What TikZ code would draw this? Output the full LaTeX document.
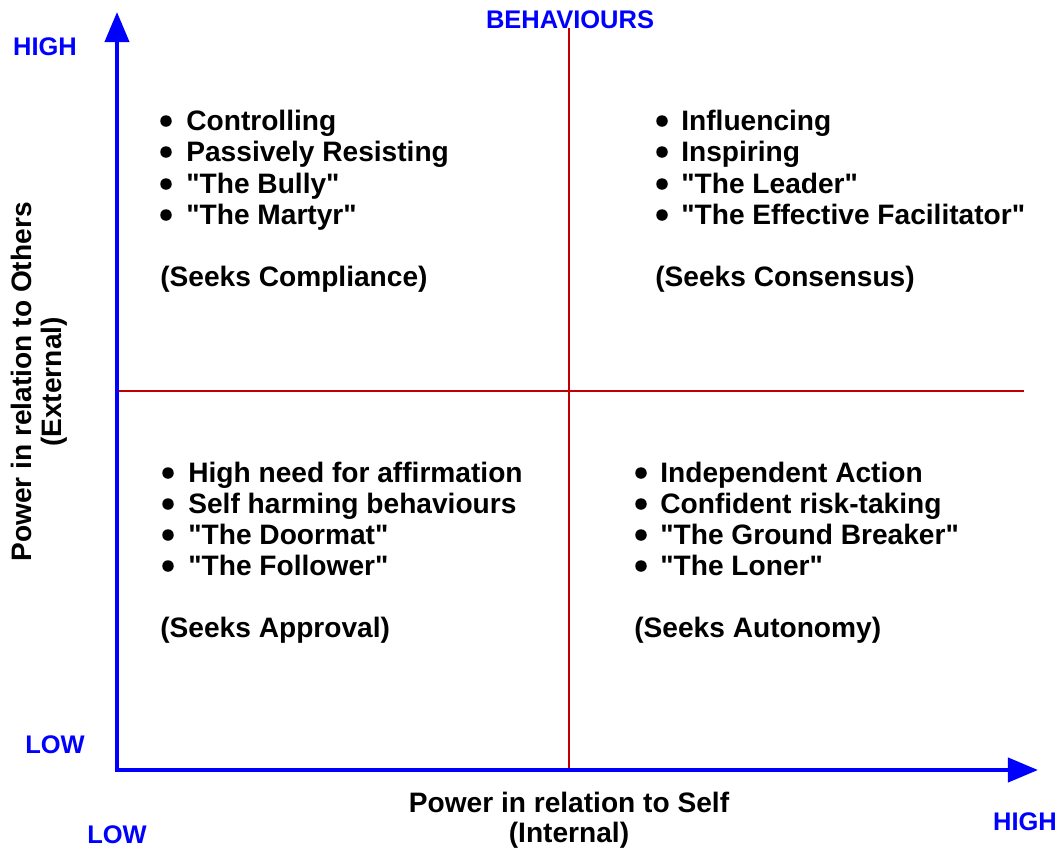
\documentclass[tikz,border=0pt]{standalone}
\usepackage{fontspec}
\setmainfont{Liberation Sans}[Ligatures=TeXOff]
\usetikzlibrary{arrows.meta}
\definecolor{axisblue}{RGB}{0,0,255}
\definecolor{gridred}{RGB}{192,0,0}

\begin{document}
\begin{tikzpicture}[scale=0.2]
            \tikzstyle{every node}+=[inner sep=0pt]
            \tikzstyle{axislabel}=[text=axisblue, font=\fontsize{14.5}{16}\selectfont\bfseries]
            \tikzstyle{item}=[anchor=base west, font=\fontsize{16}{17.6}\selectfont\bfseries]
            \tikzstyle{dot}=[circle, fill=black, minimum size=2.3mm]
            \tikzstyle{caption}=[align=center, font=\fontsize{16}{17}\selectfont\bfseries]
            \useasboundingbox (0,0) rectangle (106.3,-84.9);
            % quadrant lines
            \coordinate (midtop) at (56.9,-2.8);
            \coordinate (midbot) at (56.9,-77);
            \coordinate (midleft) at (11.7,-39.1);
            \coordinate (midright) at (102.4,-39.1);
            \draw [gridred, line width=1pt] (midtop) -- (midbot);
            \draw [gridred, line width=1pt] (midleft) -- (midright);
            % axes
            \coordinate (origin) at (11.7,-77);
            \coordinate (ytip) at (11.7,-1.2);
            \coordinate (xtip) at (103.8,-77);
            \draw [axisblue, line width=2.3pt, {Triangle[length=6mm,width=4.8mm]}-{Triangle[length=6mm,width=4.8mm]}] (ytip) -- (origin) -- (xtip);
            % axis labels
            \node [axislabel] (hightop) at (4.5,-4.7) {HIGH};
            \node [axislabel] (lowleft) at (5.5,-74.5) {LOW};
            \node [axislabel] (lowbot) at (11.7,-83.5) {LOW};
            \node [axislabel] (highright) at (102.5,-82.2) {HIGH};
            \node [axislabel] (behav) at (57.0,-2.0) {BEHAVIOURS};
            \node [caption, rotate=90] (others) at (3.95,-38.2) {Power in relation to Others\\(External)};
            \node [caption] (self) at (56.9,-82.0) {Power in relation to Self\\(Internal)};
            % top left
            \node [dot] (tl1d) at (16.6,-12.1) {};
            \node [item] (tl1) at (18.6,-13.0) {Controlling};
            \node [dot] (tl2d) at (16.6,-15.2) {};
            \node [item] (tl2) at (18.6,-16.1) {Passively Resisting};
            \node [dot] (tl3d) at (16.6,-18.4) {};
            \node [item] (tl3) at (18.6,-19.3) {"The Bully"};
            \node [dot] (tl4d) at (16.6,-21.5) {};
            \node [item] (tl4) at (18.6,-22.4) {"The Martyr"};
            \node [item] (tlseek) at (16.0,-28.6) {(Seeks Compliance)};
            % top right
            \node [dot] (tr1d) at (66.2,-12.1) {};
            \node [item] (tr1) at (68.1,-13.0) {Influencing};
            \node [dot] (tr2d) at (66.2,-15.2) {};
            \node [item] (tr2) at (68.1,-16.1) {Inspiring};
            \node [dot] (tr3d) at (66.2,-18.4) {};
            \node [item] (tr3) at (68.1,-19.3) {"The Leader"};
            \node [dot] (tr4d) at (66.2,-21.5) {};
            \node [item] (tr4) at (68.1,-22.4) {"The Effective Facilitator"};
            \node [item] (trseek) at (65.5,-28.6) {(Seeks Consensus)};
            % bottom left
            \node [dot] (bl1d) at (16.8,-47.3) {};
            \node [item] (bl1) at (18.8,-48.2) {High need for affirmation};
            \node [dot] (bl2d) at (16.8,-50.4) {};
            \node [item] (bl2) at (18.8,-51.3) {Self harming behaviours};
            \node [dot] (bl3d) at (16.8,-53.5) {};
            \node [item] (bl3) at (18.8,-54.4) {"The Doormat"};
            \node [dot] (bl4d) at (16.8,-56.6) {};
            \node [item] (bl4) at (18.8,-57.5) {"The Follower"};
            \node [item] (blseek) at (16.0,-63.7) {(Seeks Approval)};
            % bottom right
            \node [dot] (br1d) at (64.1,-47.3) {};
            \node [item] (br1) at (66.0,-48.2) {Independent Action};
            \node [dot] (br2d) at (64.1,-50.4) {};
            \node [item] (br2) at (66.0,-51.3) {Confident risk-taking};
            \node [dot] (br3d) at (64.1,-53.5) {};
            \node [item] (br3) at (66.0,-54.4) {"The Ground Breaker"};
            \node [dot] (br4d) at (64.1,-56.6) {};
            \node [item] (br4) at (66.0,-57.5) {"The Loner"};
            \node [item] (brseek) at (63.4,-63.7) {(Seeks Autonomy)};
\end{tikzpicture}
\end{document}
